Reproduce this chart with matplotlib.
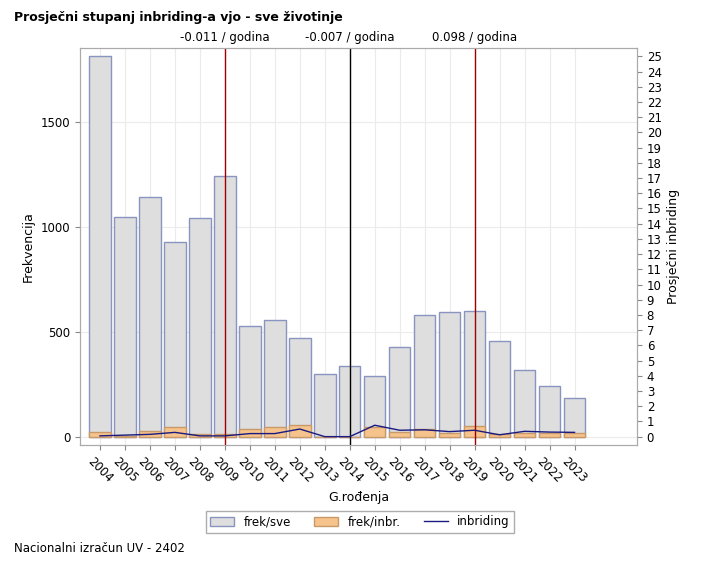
import matplotlib
matplotlib.use("Agg")
import matplotlib.pyplot as plt
import numpy as np

years = list(range(2004, 2024))
frek_sve = [1810,1045,1140,925,1040,1240,525,555,470,300,335,290,425,580,595,600,455,318,240,185]
frek_inbr = [20,5,25,45,12,12,38,45,55,0,0,45,20,38,15,52,10,15,15,15]
inbriding = [0.05,0.1,0.15,0.28,0.05,0.05,0.2,0.2,0.5,0,0,0.75,0.42,0.45,0.33,0.42,0.12,0.35,0.3,0.28]
vlines = [(2009,'#a00000','-0.011 / godina'),(2014,'black','-0.007 / godina'),(2019,'#a00000','0.098 / godina')]

fig = plt.figure(figsize=(7.18,5.67), dpi=100)
ax = fig.add_axes([80/718, 1-445/567, 557/718, 397/567])
x = np.array(years)
ax.bar(x, frek_sve, width=0.86, color='#dedede', edgecolor='#8a94c0', linewidth=1, label='frek/sve', zorder=2)
ax.bar(x, frek_inbr, width=0.86, color='#f5c38b', edgecolor='#c89a6a', linewidth=1, label='frek/inbr.', zorder=3)
ax.set_xlim(2003.2, 2025.5)
ax.set_ylim(-40, 1850)
ax.set_yticks([0,500,1000,1500])
ax.set_xticks(years)
ax.set_xticklabels([str(y) for y in years], rotation=-45, ha='center', va='top', fontsize=8.5)
ax.tick_params(labelsize=8.5, color='#888888')
ax.grid(True, color='#ebebeb', zorder=0)
ax.set_axisbelow(True)
ax.set_xlabel('G.rođenja', fontsize=9)
ax.set_ylabel('Frekvencija', fontsize=9)
for s in ax.spines.values():
    s.set_color('#aaaaaa')
for xv, c, t in vlines:
    ax.axvline(xv, color=c, linewidth=1, zorder=4)
    ax.text(xv, 1.01, t, transform=ax.get_xaxis_transform(), ha='center', va='bottom', fontsize=8.5)

ax2 = ax.twinx()
l, = ax2.plot(x, inbriding, color='#1a1a80', linewidth=1, label='inbriding', zorder=5)
ax2.set_ylim(-0.55, 25.55)
ax2.set_yticks(range(0,26))
ax2.tick_params(labelsize=8.5, color='#888888')
ax2.set_ylabel('Prosječni inbriding', fontsize=9)
for s in ax2.spines.values():
    s.set_color('#aaaaaa')

h1, l1 = ax.get_legend_handles_labels()
fig.legend(h1+[l], l1+['inbriding'], loc='center', bbox_to_anchor=(360/718, 1-522/567), ncol=3, fontsize=8.5, frameon=True, edgecolor='#999999', fancybox=False, handlelength=2)
fig.text(14/718, 1-18/567, 'Prosječni stupanj inbriding-a vjo - sve životinje', fontsize=9, fontweight='bold', va='center')
fig.text(14/718, 1-548/567, 'Nacionalni izračun UV - 2402', fontsize=8.5, va='center')
fig.savefig('out.png', dpi=100)
